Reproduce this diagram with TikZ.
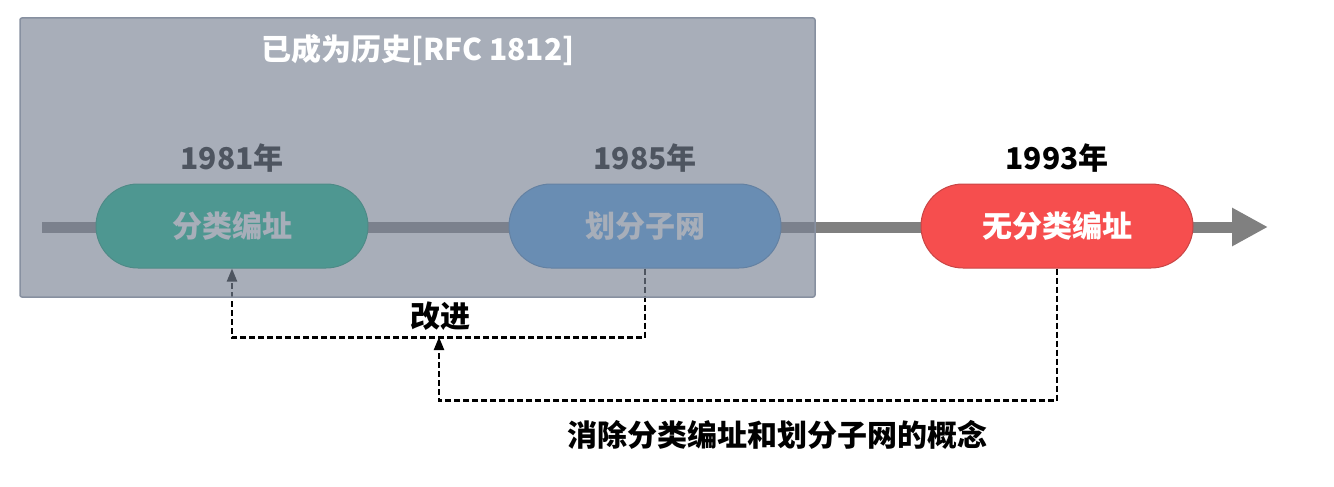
\documentclass[tikz,border=0pt]{standalone}
\usepackage{fontspec}
\setmainfont{Noto Sans CJK SC}
\usetikzlibrary{arrows.meta}
\definecolor{tlgray}{HTML}{808080}
\definecolor{tealc}{HTML}{00BF8C}
\definecolor{bluec}{HTML}{4DA0ED}
\definecolor{redc}{HTML}{F64E4E}
\definecolor{redb}{HTML}{C94545}
\definecolor{veil}{HTML}{798394}
\definecolor{veilb}{HTML}{8790A0}
\tikzset{
  pill/.style={rectangle, rounded corners=42pt, minimum width=272pt, minimum height=84pt,
    inner sep=0pt, text=white, line width=1pt},
  year/.style={inner sep=0pt, text=black},
  dashc/.style={line width=2.2pt, dash pattern=on 6pt off 3pt, black},
  tip/.style={-{Triangle[length=13pt,width=10pt]}},
}
\begin{document}
\begin{tikzpicture}[x=1pt,y=-1pt,font=\bfseries\fontsize{30}{32}\selectfont]
\useasboundingbox (0,0) rectangle (1334,487);
% timeline
\coordinate (ts) at (42,227);
\coordinate (te) at (1268,227);
\draw[tlgray, line width=11pt, -{Triangle[length=36pt,width=36pt]}] (ts) -- (te);
% pills
\node[pill, fill=tealc, draw=tealc!80!black] (p1) at (232,226) {分类编址};
\node[pill, fill=bluec, draw=bluec!80!black] (p2) at (645,226) {划分子网};
\node[pill, fill=redc, draw=redb] (p3) at (1057,226) {无分类编址};
% years
\node[year] (y1) at (232,158) {1981年};
\node[year] (y2) at (645,158) {1985年};
\node[year] (y3) at (1057,158) {1993年};
% connectors
\draw[dashc, tip] (p2.south) -- ++(0,69) -| (p1.south);
\coordinate (m) at (439,337);
\draw[dashc, tip] (p3.south) -- ++(0,132) -| (m);
\node[year] (lab1) at (440,316) {改进};
\node[year] (lab2) at (777,435) {消除分类编址和划分子网的概念};
% veil box
\filldraw[fill=veil, fill opacity=0.65, draw=veilb, line width=1.5pt, rounded corners=2pt]
  (20,18) rectangle (815,297);
\node[text=white, inner sep=0pt] (title) at (418,50) {已成为历史[RFC 1812]};
\end{tikzpicture}
\end{document}
